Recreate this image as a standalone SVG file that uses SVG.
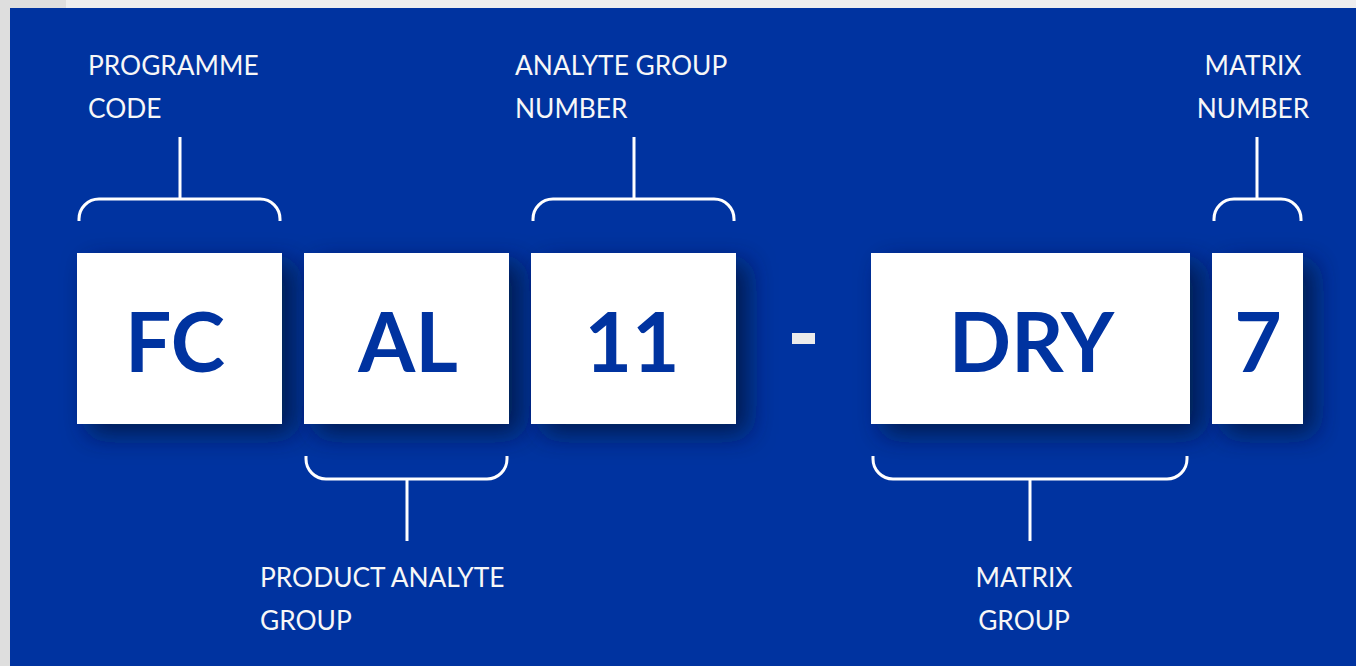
<svg xmlns="http://www.w3.org/2000/svg" width="1356" height="666" viewBox="0 0 1356 666">
<style>
.lbl{font-family:Lato,"Open Sans",sans-serif;font-size:26.3px;fill:#f7f7f7}
.big{font-family:Lato,"Open Sans",sans-serif;font-weight:bold;font-size:82px;fill:#0033a0;text-anchor:middle}
.box{fill:#ffffff;filter:url(#sh)}
.br{fill:none;stroke:#ffffff;stroke-width:3;stroke-linecap:butt}
</style>
<defs>
<filter id="sh" x="-40%" y="-40%" width="180%" height="180%">
<feDropShadow dx="12" dy="10" stdDeviation="13" flood-color="#00123a" flood-opacity="0.8"/>
</filter>
</defs>
<rect x="0" y="0" width="1356" height="666" fill="#eeeeee"/>
<rect x="0" y="0" width="66" height="666" fill="#dedede"/>
<rect x="10" y="8" width="1346" height="658" fill="#0033a0"/>

<g id="connectors">
<path class="br" d="M79 221 V219 A20 20 0 0 1 99 199 H260 A20 20 0 0 1 280 219 V221 M180 199 V137"/>
<path class="br" d="M533 221 V219 A20 20 0 0 1 553 199 H714 A20 20 0 0 1 734 219 V221 M634 199 V137"/>
<path class="br" d="M1214 221 V219 A20 20 0 0 1 1234 199 H1281 A20 20 0 0 1 1301 219 V221 M1257 199 V137"/>
<path class="br" d="M306 456 V459 A20 20 0 0 0 326 479 H487 A20 20 0 0 0 507 459 V456 M407 479 V541"/>
<path class="br" d="M873 456 V459 A20 20 0 0 0 893 479 H1167 A20 20 0 0 0 1187 459 V456 M1030 479 V541"/>
</g>

<g id="label-programme-code"><text class="lbl" x="88" y="75">PROGRAMME</text><text class="lbl" x="88" y="118">CODE</text></g>
<g id="label-analyte-group-number"><text class="lbl" x="515" y="75">ANALYTE GROUP</text><text class="lbl" x="515" y="118">NUMBER</text></g>
<g id="label-matrix-number"><text class="lbl" x="1253" y="75" text-anchor="middle">MATRIX</text><text class="lbl" x="1253" y="118" text-anchor="middle">NUMBER</text></g>
<g id="label-product-analyte-group"><text class="lbl" x="260" y="587">PRODUCT ANALYTE</text><text class="lbl" x="260" y="630">GROUP</text></g>
<g id="label-matrix-group"><text class="lbl" x="1024" y="587" text-anchor="middle">MATRIX</text><text class="lbl" x="1024" y="630" text-anchor="middle">GROUP</text></g>

<g id="node-fc"><rect class="box" x="77" y="253" width="205" height="171"/><text class="big" x="175" y="372">FC</text></g>
<g id="node-al"><rect class="box" x="304" y="253" width="205" height="171"/><text class="big" x="408" y="372">AL</text></g>
<g id="node-11"><rect class="box" x="531" y="253" width="205" height="171"/><text class="big" x="632" y="372">11</text></g>
<g id="node-dash"><rect x="792" y="333" width="23" height="11" fill="#ebebeb"/></g>
<g id="node-dry"><rect class="box" x="871" y="253" width="319" height="171"/><text class="big" x="1031.5" y="372">DRY</text></g>
<g id="node-7"><rect class="box" x="1212" y="253" width="91" height="171"/><text class="big" x="1258" y="372">7</text></g>
</svg>
